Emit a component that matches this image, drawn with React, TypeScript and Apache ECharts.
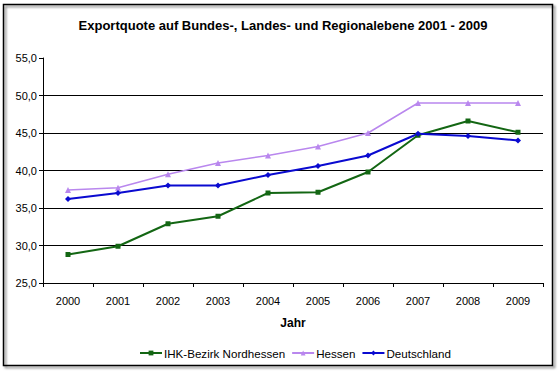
import React, { useEffect, useRef } from "react";
import * as echarts from "echarts";

const years = ["2000", "2001", "2002", "2003", "2004", "2005", "2006", "2007", "2008", "2009"];
const ihkNordhessen = [28.8, 29.9, 32.9, 33.9, 37.0, 37.1, 39.8, 44.7, 46.6, 45.1];
const hessen = [37.4, 37.7, 39.5, 41.0, 42.0, 43.2, 45.0, 49.0, 49.0, 49.0];
const deutschland = [36.2, 37.0, 38.0, 38.0, 39.4, 40.6, 42.0, 44.9, 44.6, 44.0];

const FONT = "'Liberation Sans', Arial, sans-serif";

export default function App() {
  const ref = useRef<HTMLDivElement>(null);
  useEffect(() => {
    if (!ref.current) return;
    const chart = echarts.init(ref.current, null, { renderer: "svg" });
    chart.setOption({
      animation: false,
      backgroundColor: "#ffffff",
      title: {
        text: "Exportquote auf Bundes-, Landes- und Regionalebene 2001 - 2009",
        left: 278,
        textAlign: "center",
        top: 14,
        textStyle: { fontFamily: FONT, fontSize: 13, fontWeight: "bold", color: "#000" },
      },
      graphic: [
        {
          type: "rect",
          shape: { x: 3.5, y: 4.5, width: 549, height: 361 },
          style: { fill: "none", stroke: "#000", lineWidth: 1.5, shadowColor: "rgba(0,0,0,0.5)", shadowOffsetX: 2, shadowOffsetY: 2, shadowBlur: 2 },
          silent: true,
          z: 100,
        },
      ],
      legend: {
        bottom: 7,
        left: 134,
        itemWidth: 22,
        itemHeight: 6,
        itemGap: 6,
        textStyle: { fontFamily: FONT, fontSize: 11.6, color: "#000", padding: [0, 0, 0, -3] },
        data: ["IHK-Bezirk Nordhessen", "Hessen", "Deutschland"],
      },
      grid: { left: 43, right: 17, top: 58, bottom: 88 },
      xAxis: {
        type: "category",
        data: years,
        boundaryGap: true,
        name: "Jahr",
        nameLocation: "middle",
        nameGap: 34,
        nameTextStyle: { fontFamily: FONT, fontSize: 12, fontWeight: "bold", color: "#000" },
        axisLine: { lineStyle: { color: "#000", width: 1 } },
        axisTick: { show: true, inside: false, length: 4, lineStyle: { color: "#000" } },
        axisLabel: { fontFamily: FONT, fontSize: 11, color: "#000", margin: 12 },
      },
      yAxis: {
        type: "value",
        min: 25,
        max: 55,
        interval: 5,
        axisLine: { show: true, lineStyle: { color: "#000", width: 1 } },
        axisTick: { show: true, inside: false, length: 4, lineStyle: { color: "#000" } },
        axisLabel: {
          fontFamily: FONT,
          fontSize: 11,
          color: "#000",
          margin: 6,
          formatter: (v: number) => v.toFixed(1).replace(".", ","),
        },
        splitLine: { show: true, showMaxLine: false, lineStyle: { color: "#000", width: 1 } },
      },
      series: [
        {
          name: "IHK-Bezirk Nordhessen",
          type: "line",
          data: ihkNordhessen,
          symbol: "rect",
          symbolSize: 5,
          itemStyle: { color: "#136613" },
          lineStyle: { color: "#136613", width: 2 },
        },
        {
          name: "Hessen",
          type: "line",
          data: hessen,
          symbol: "triangle",
          symbolSize: 6,
          itemStyle: { color: "#b987ee" },
          lineStyle: { color: "#b987ee", width: 1.5 },
        },
        {
          name: "Deutschland",
          type: "line",
          data: deutschland,
          symbol: "diamond",
          symbolSize: 6,
          itemStyle: { color: "#0a0ad0" },
          lineStyle: { color: "#0a0ad0", width: 2 },
        },
      ],
    });
    return () => chart.dispose();
  }, []);
  return <div ref={ref} style={{ position: "fixed", left: 0, top: 0, width: 560, height: 371 }} />;
}
